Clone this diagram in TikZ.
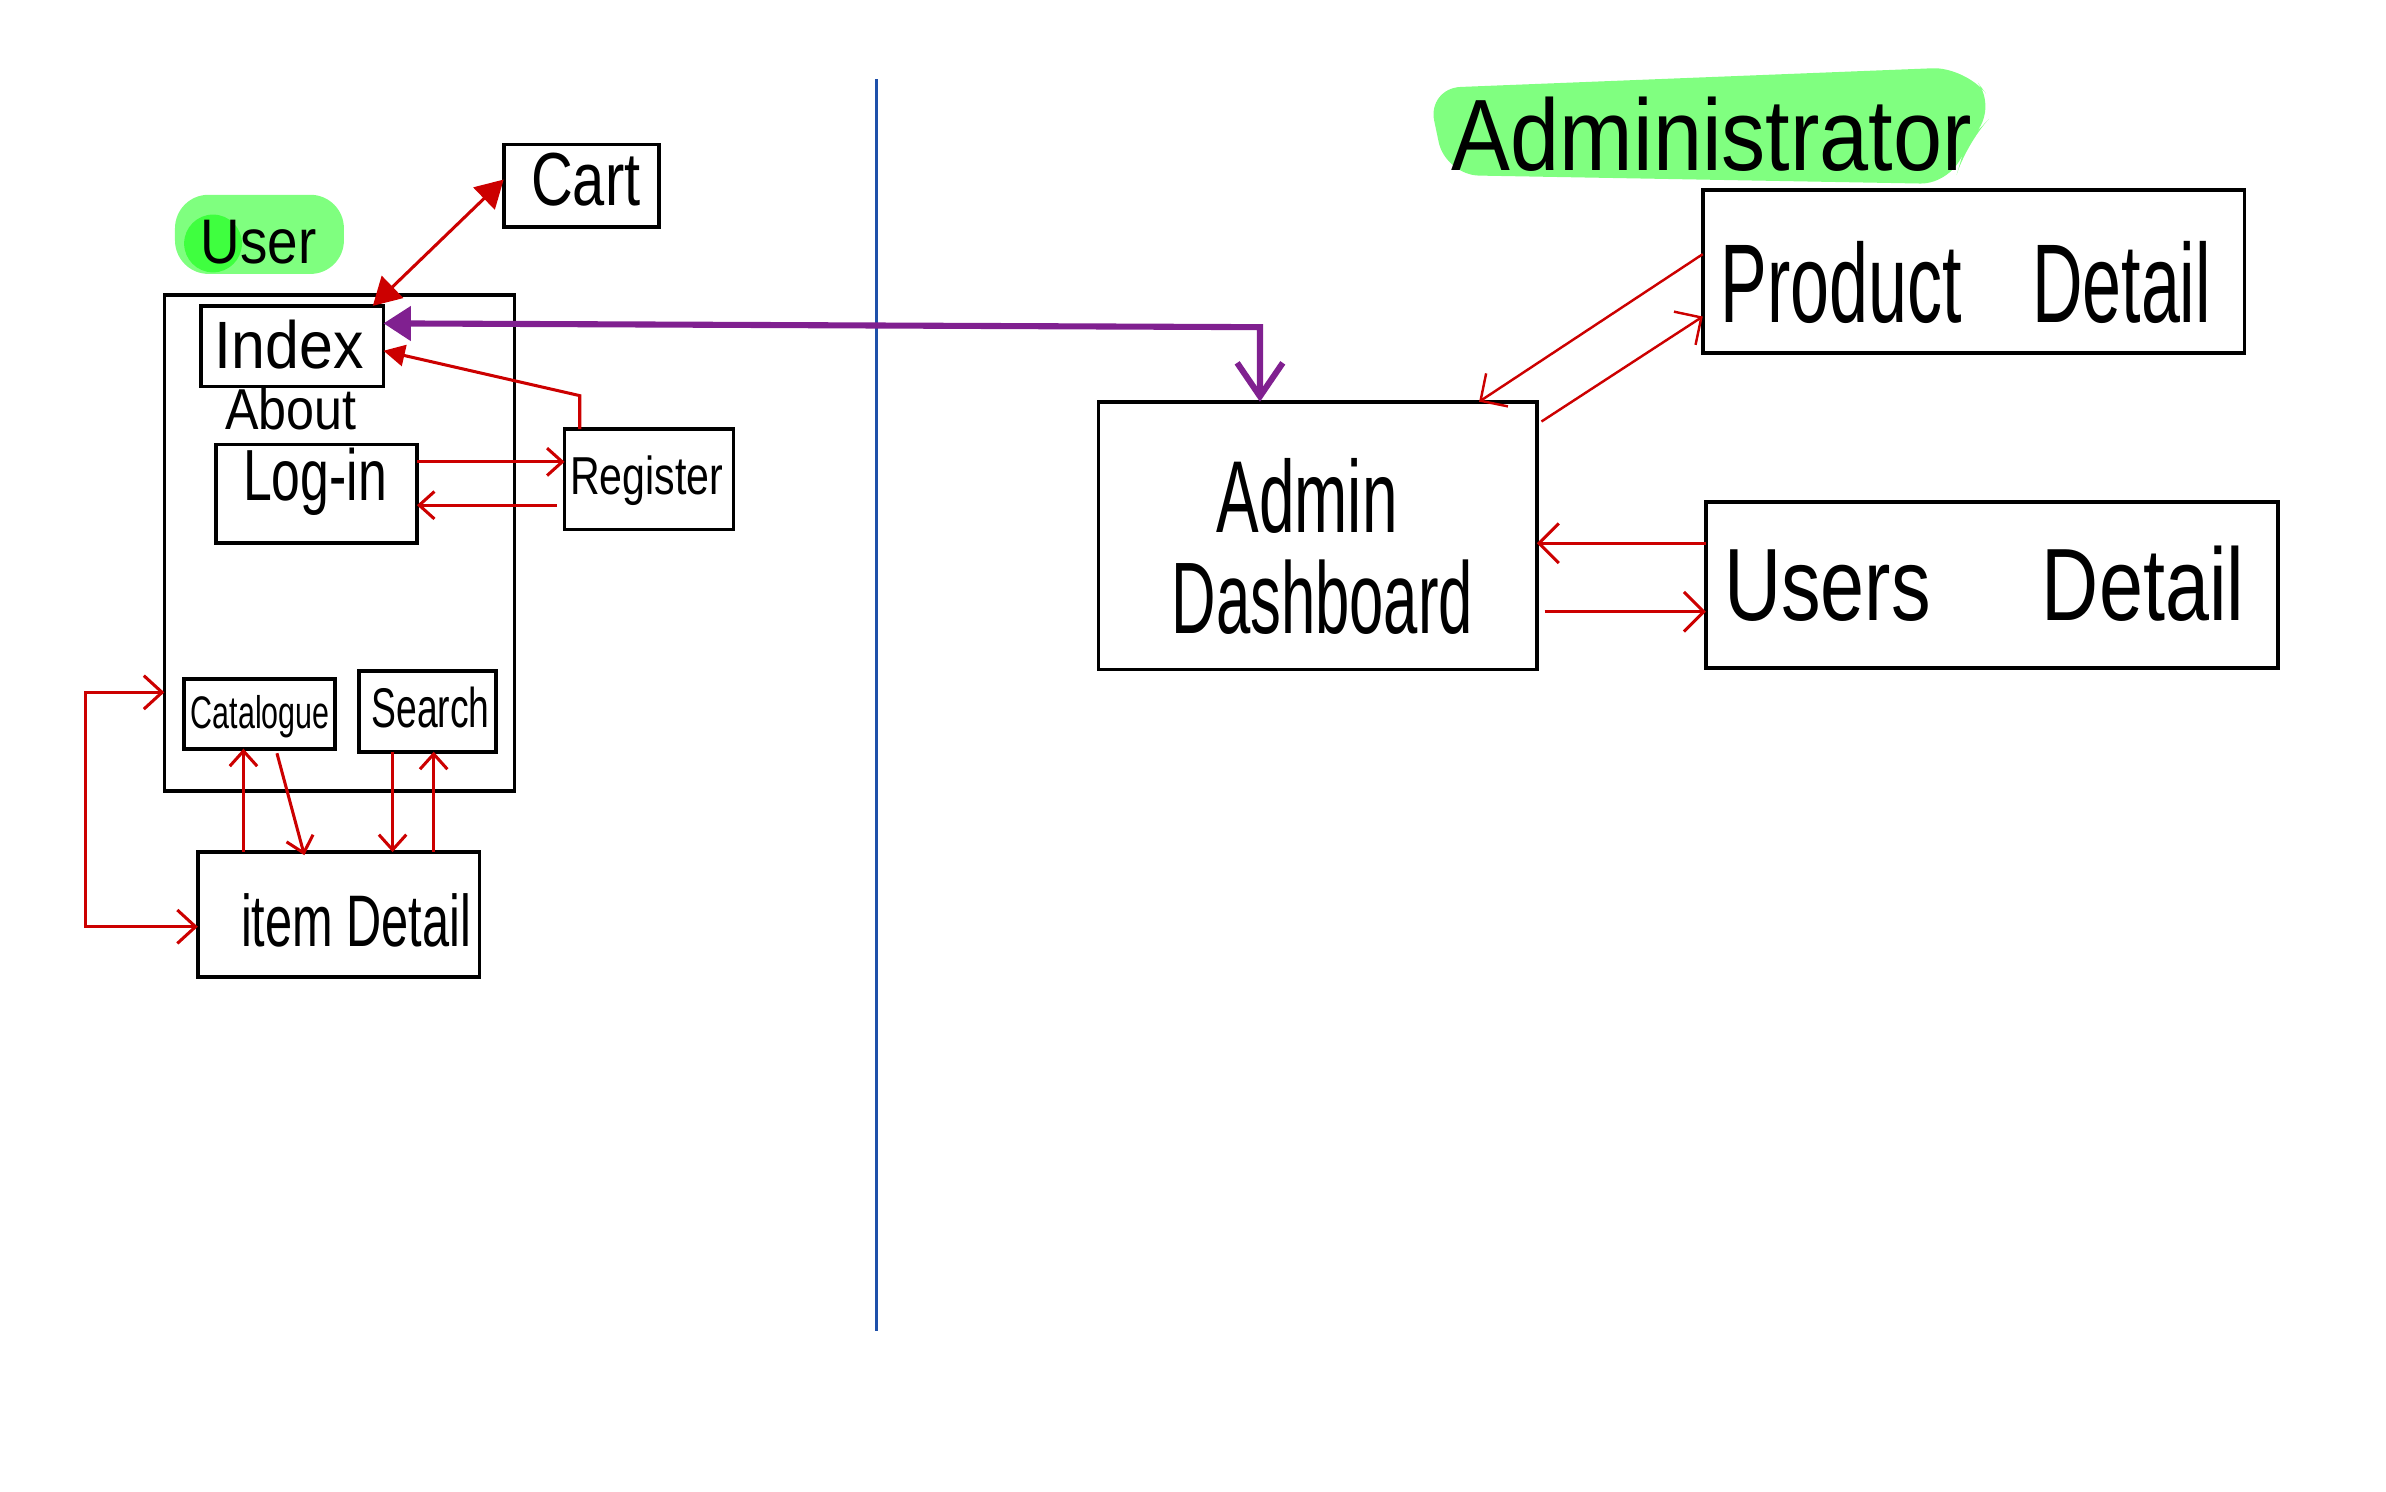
\documentclass[tikz,border=0pt]{standalone}
\usepackage{fontspec}
\setmainfont{Liberation Sans}
\usepackage{graphicx}
\usetikzlibrary{arrows.meta,calc}
\definecolor{hlgreen}{RGB}{0,255,0}
\definecolor{hlsolid}{RGB}{128,255,128}
\definecolor{linered}{RGB}{204,0,0}
\definecolor{linepurple}{RGB}{128,32,144}
\definecolor{lineblue}{RGB}{30,80,170}
\newcommand{\hwtext}[3]{\scalebox{1}[#1]{\fontsize{#2}{#2}\selectfont #3}}
\begin{document}
\begin{tikzpicture}[x=1pt,y=-1pt,
  box/.style={draw=black,line width=2.4pt,inner sep=0pt,outer sep=0pt},
  lbl/.style={inner sep=0pt,anchor=base},
  rl/.style={draw=linered,line width=2pt},
  rlthin/.style={draw=linered,line width=1.6pt},
  pl/.style={draw=linepurple,line width=4pt},
  barb/.style={-{Straight Barb[length=10pt,width=18pt]}},
  barbbig/.style={-{Straight Barb[length=13pt,width=26pt]}}
]
\useasboundingbox (0,0) rectangle (1568,980);

% highlights
\fill[hlgreen,opacity=0.5,rounded corners=22pt] (115,128) rectangle (226,180);
\fill[hlgreen,opacity=0.5] (140,160) circle (19);
\fill[hlsolid,rounded corners=22pt] (938,58) -- (1292,44) -- (1313,72) -- (1292,94) -- (1284,121) -- (950,115) -- cycle;

% divider
\coordinate (divtop) at (576,52);
\coordinate (divbot) at (576,875);
\draw[lineblue,line width=2pt] (divtop) -- (divbot);

% boxes
\node[box,minimum width=102pt,minimum height=54pt] (cart) at (382,122) {};
\node[box,minimum width=230pt,minimum height=326pt] (outer) at (223,357) {};
\node[box,minimum width=120pt,minimum height=53pt] (index) at (192,227.5) {};
\node[box,minimum width=132pt,minimum height=65pt] (login) at (208,324.5) {};
\node[box,minimum width=111pt,minimum height=66pt] (register) at (426.5,315) {};
\node[box,minimum width=99pt,minimum height=46pt] (catalogue) at (170.5,469) {};
\node[box,minimum width=90pt,minimum height=53pt] (search) at (281,467.5) {};
\node[box,minimum width=185pt,minimum height=82pt] (item) at (222.5,601) {};
\node[box,minimum width=288pt,minimum height=176pt] (admin) at (866,352) {};
\node[box,minimum width=356pt,minimum height=107pt] (product) at (1297,178.5) {};
\node[box,minimum width=376pt,minimum height=109pt] (users) at (1309,384.5) {};

% texts
\node[lbl] (userT) at (170,173) {\hwtext{1.15}{36pt}{User}};
\node[lbl] (cartT) at (385,135) {\hwtext{1.3}{38pt}{Cart}};
\node[lbl] (indexT) at (190,242) {\hwtext{1.1}{40pt}{Index}};
\node[lbl] (aboutT) at (191,282) {\hwtext{1.15}{33pt}{About}};
\node[lbl] (loginT) at (207,329) {\hwtext{1.4}{34pt}{Log-in}};
\node[lbl] (registerT) at (425,325) {\hwtext{1.3}{27pt}{Register}};
\node[lbl] (catT) at (171,479) {\hwtext{1.5}{20pt}{Catalogue}};
\node[lbl] (searchT) at (283,478) {\hwtext{1.5}{24.5pt}{Search}};
\node[lbl] (itemT) at (234,622) {\hwtext{1.5}{32pt}{item Detail}};
\node[lbl] (adminT1) at (859,350) {\hwtext{1.6}{42pt}{Admin}};
\node[lbl] (adminT2) at (869,416) {\hwtext{1.65}{40.5pt}{Dashboard}};
\node[lbl] (adminTitle) at (1125,112) {\hwtext{1.15}{58pt}{Administrator}};
\node[lbl] (productT) at (1292,212) {\hwtext{1.6}{46pt}{Product\hspace{46pt}Detail}};
\node[lbl] (usersT) at (1304,408) {\hwtext{1.3}{52pt}{Users\hspace{73pt}Detail}};

% Cart <-> Index
\draw[rl,{Triangle[length=18pt,width=20pt]}-{Triangle[length=18pt,width=20pt]}]
  ($(index.north east)+(-7,0)$) -- ($(cart.west)+(0,-4)$);

% Index <-> Admin (purple)
\coordinate (pturn) at (828,215);
\draw[pl,{Triangle[length=18pt,width=22pt]}-{Straight Barb[length=22pt,width=30pt]}]
  ($(index.east)+(0,-15)$) -- (pturn) -- (pturn |- admin.north);

% Register -> Index
\coordinate (rbend) at ($(register.north west)+(10,-22)$);
\draw[rl,-{Triangle[length=14pt,width=14pt]}]
  ($(register.north west)+(10,0)$) -- (rbend) -- ($(index.east)+(0,3)$);

% Log-in <-> Register
\coordinate (lr1) at ($(login.east)+(0,-21)$);
\draw[rl,barb] (lr1) -- (lr1 -| register.west);
\coordinate (rl1) at ($(register.west)+(-5,17)$);
\draw[rl,barb] (rl1) -- (rl1 -| login.east);

% loop outer <-> item
\coordinate (loopx) at (56,0);
\coordinate (lo1) at ($(outer.west)+(0,98)$);
\coordinate (li1) at ($(item.west)+(0,8)$);
\draw[rl,{Straight Barb[length=12pt,width=22pt]}-{Straight Barb[length=12pt,width=22pt]}]
  (lo1) -- (lo1 -| loopx) -- (li1 -| loopx) -- (li1);

% Catalogue <-> item
\coordinate (c1) at ($(item.north west)+(30,0)$);
\draw[rl,barb] (c1) -- (c1 |- catalogue.south);
\draw[rl,barb] ($(catalogue.south)+(11.5,3)$) -- ($(item.north)+(-22.5,2)$);

% Search <-> item
\coordinate (s1) at ($(search.south)+(-23,0)$);
\draw[rl,barb] (s1) -- (s1 |- item.north);
\coordinate (s2) at ($(item.north west)+(155,0)$);
\draw[rl,barb] (s2) -- (s2 |- search.south);

% Admin <-> Product
\draw[rlthin,barbbig] ($(product.west)+(0,-11.5)$) -- ($(admin.north)+(106,0)$);
\draw[rlthin,barbbig] ($(admin.north east)+(3,13)$) -- ($(product.west)+(0,29.5)$);

% Admin <-> Users
\coordinate (u1) at ($(users.west)+(0,-27.5)$);
\draw[rl,barbbig] (u1) -- (u1 -| admin.east);
\coordinate (a1) at ($(admin.east)+(5,50)$);
\draw[rl,barbbig] (a1) -- (a1 -| users.west);
\end{tikzpicture}
\end{document}
